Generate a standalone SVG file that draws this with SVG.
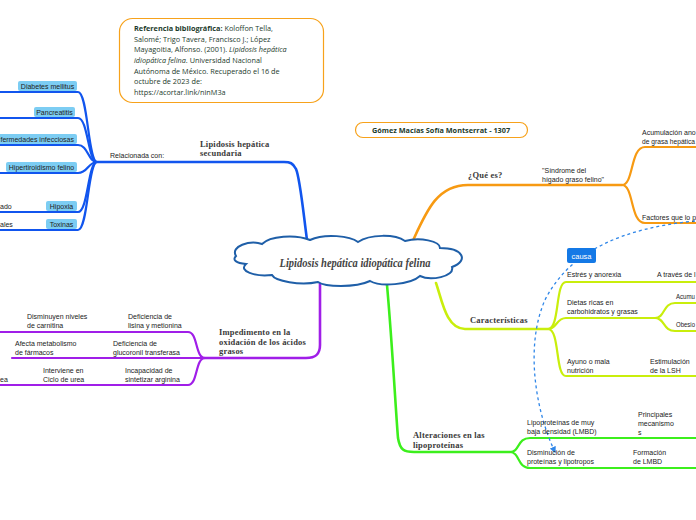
<svg xmlns="http://www.w3.org/2000/svg" width="696" height="520" viewBox="0 0 696 520">
<defs>
<style>
.t{font-family:"Liberation Serif","DejaVu Serif",serif;font-weight:bold;font-size:8.5px;fill:#3a3a3a;letter-spacing:0.2px}
.l{font-family:"Liberation Sans",Arial,sans-serif;font-size:7px;fill:#222}
.b{fill:#7ccdf3;stroke:none}
.ref{font-family:"Open Sans","Noto Sans",sans-serif;font-size:7.3px;fill:#1d3b2c}
.c{fill:none;stroke-linecap:round;stroke-linejoin:round}
.blue{stroke:#1155ee}
.org{stroke:#f79a12}
.pur{stroke:#a01ee8}
.yel{stroke:#c9ee0c}
.grn{stroke:#3cef1c}
.m{stroke-width:2.6}
.s{stroke-width:2.2}
</style>
<marker id="arr" viewBox="0 0 10 10" refX="8" refY="5" markerWidth="5" markerHeight="5" orient="auto">
<path d="M0,0 L10,5 L0,10 z" fill="#2f86e8"/>
</marker>
</defs>
<rect width="696" height="520" fill="#ffffff"/>

<g id="connectors">
<path class="c blue m" d="M307 240 C303 210 300 178 296 169 C293 163 290 162 284 162 L96 162"/>
<path class="c blue s" d="M97 162 C88 162 88 92 78 92 L0 92"/>
<path class="c blue s" d="M97 162 C88 162 88 118 78 118 L0 118"/>
<path class="c blue s" d="M97 162 C88 162 88 145 78 145 L0 145"/>
<path class="c blue s" d="M97 162 C88 162 88 173 78 173 L0 173"/>
<path class="c blue s" d="M97 162 C88 162 88 212 78 212 L0 212"/>
<path class="c blue s" d="M97 162 C88 162 88 230 78 230 L0 230"/>
<path class="c org m" d="M410 247 C425 215 435 185 468 185 L622 185"/>
<path class="c org s" d="M622 185 C634 185 630 147 645 147 L696 147"/>
<path class="c org s" d="M622 185 C634 185 630 223 645 223 L696 223"/>
<path class="c pur m" d="M320 279 L320 345 C320 354 316 358 306 358 L204 358"/>
<path class="c pur s" d="M205 358 C195 358 198 332 188 332 L0 332"/>
<path class="c pur s" d="M205 358 L12 358"/>
<path class="c pur s" d="M205 358 C195 358 198 385 188 385 L0 385"/>
<path class="c yel m" d="M436 283 C442 300 446 329 465 329 L548 329"/>
<path class="c yel s" d="M548 329 C560 329 555 282 566 282 L696 282"/>
<path class="c yel s" d="M548 329 C557 329 556 318 566 318 L655 318"/>
<path class="c yel s" d="M548 329 C560 329 555 376 566 376 L696 376"/>
<path class="c yel s" d="M655 318 C665 318 663 303 675 303 L696 303"/>
<path class="c yel s" d="M655 318 C665 318 663 331 675 331 L696 331"/>
<path class="c grn m" d="M387 285 C392 340 396 415 398 438 C400 450 404 452 414 452 L510 452"/>
<path class="c grn s" d="M510 452 C520 452 517 438 530 438 L696 438"/>
<path class="c grn s" d="M510 452 C520 452 517 468 530 468 L696 468"/>
<path d="M695 221 C625 228 570 250 545 300 C525 345 535 410 555 452" fill="none" stroke="#2f86e8" stroke-width="1.3" stroke-dasharray="3,3" marker-end="url(#arr)"/>
</g>

<g id="reference">
<rect x="119.5" y="18.5" width="204" height="84" rx="13" fill="#fff" stroke="#f7a21b" stroke-width="1.2"/>
<text class="ref" x="134" y="31"><tspan font-weight="bold">Referencia bibliográfica:</tspan> Koloffon Tella,</text>
<text class="ref" x="134" y="41.7">Salomé; Trigo Tavera, Francisco J.; López</text>
<text class="ref" x="134" y="52.3">Mayagoitia, Alfonso. (2001). <tspan font-style="italic">Lipidosis hepática</tspan></text>
<text class="ref" x="134" y="63"><tspan font-style="italic">idiopática felina</tspan>. Universidad Nacional</text>
<text class="ref" x="134" y="73.5">Autónoma de México. Recuperado el 16 de</text>
<text class="ref" x="134" y="84">octubre de 2023 de:</text>
<text class="ref" x="134" y="94.5">https://acortar.link/ninM3a</text>
</g>

<g id="author">
<rect x="355.5" y="122.5" width="172" height="15" rx="7.5" fill="#fff" stroke="#f7a21b" stroke-width="1.2"/>
<text class="ref" x="441" y="133" text-anchor="middle" font-weight="bold">Gómez Macías Sofía Montserrat - 1307</text>
</g>

<g id="center">
<path d="M236 256 C230 246 250 240 262 244 C270 236 295 234 310 240 C325 233 350 236 358 242 C370 234 395 234 405 241 C420 237 440 241 440 248 C462 248 470 260 452 267 C455 277 430 281 420 276 C410 285 380 287 370 281 C355 288 325 287 318 282 C300 286 275 281 272 275 C255 277 238 271 246 264 C236 263 232 260 236 256 Z" fill="#fff" stroke="#1f5fa8" stroke-width="2"/>
<text x="355" y="267" text-anchor="middle" font-family="'Liberation Serif','DejaVu Serif',serif" font-style="italic" font-weight="bold" font-size="12" fill="#444" textLength="151" lengthAdjust="spacingAndGlyphs">Lipidosis hepática idiopática felina</text>
</g>

<g id="secundaria">
<text class="t" x="200" y="147">Lipidosis hepática</text>
<text class="t" x="200" y="156">secundaria</text>
<text class="l" x="110" y="158">Relacionada con:</text>
</g>
<g id="diabetes"><rect class="b" x="18" y="81" width="59" height="10" rx="2"/><text class="l" x="47.5" y="88.5" text-anchor="middle">Diabetes mellitus</text></g>
<g id="pancreatitis"><rect class="b" x="34" y="107" width="41" height="10" rx="2"/><text class="l" x="54.5" y="114.5" text-anchor="middle">Pancreatitis</text></g>
<g id="infecciosas"><rect class="b" x="-6" y="134" width="83" height="10" rx="2"/><text class="l" x="74" y="141.5" text-anchor="end">fermedades infecciosas</text></g>
<g id="hipertiroidismo"><rect class="b" x="6" y="162" width="71" height="10" rx="2"/><text class="l" x="41.5" y="169.5" text-anchor="middle">Hipertiroidismo felino</text></g>
<g id="hipoxia"><rect class="b" x="46" y="201" width="31" height="10" rx="2"/><text class="l" x="61.5" y="208.5" text-anchor="middle">Hipoxia</text><text class="l" x="0" y="209">ado</text></g>
<g id="toxinas"><rect class="b" x="46" y="219" width="31" height="10" rx="2"/><text class="l" x="61.5" y="226.5" text-anchor="middle">Toxinas</text><text class="l" x="0" y="227">ales</text></g>

<g id="que-es">
<text class="t" x="468" y="178">¿Qué es?</text>
<text class="l" x="542" y="173">"Síndrome del</text>
<text class="l" x="542" y="182">hígado graso felino"</text>
</g>
<g id="acumulacion"><text class="l" x="642" y="135">Acumulación ano</text><text class="l" x="642" y="144" textLength="53" lengthAdjust="spacingAndGlyphs">de grasa hepática</text></g>
<g id="factores"><text class="l" x="642" y="220">Factores que lo p</text></g>
<g id="causa"><rect x="567" y="248" width="29" height="15" rx="2" fill="#1479e6"/><text x="581.5" y="258.5" text-anchor="middle" font-family="'Liberation Sans',Arial,sans-serif" font-size="7.5" fill="#fff">causa</text></g>

<g id="caracteristicas"><text class="t" x="470" y="323">Características</text></g>
<g id="estres"><text class="l" x="567" y="277">Estrés y anorexia</text><text class="l" x="657" y="277">A través de l</text></g>
<g id="dietas"><text class="l" x="567" y="305">Dietas ricas en</text><text class="l" x="567" y="314">carbohidratos y grasas</text></g>
<g id="acumu"><text class="l" x="676" y="299" textLength="19" lengthAdjust="spacingAndGlyphs">Acumu</text></g>
<g id="obesi"><text class="l" x="676" y="327" textLength="19" lengthAdjust="spacingAndGlyphs">Obesio</text></g>
<g id="ayuno"><text class="l" x="567" y="364">Ayuno o mala</text><text class="l" x="567" y="373">nutrición</text></g>
<g id="lsh"><text class="l" x="650" y="364">Estimulación</text><text class="l" x="650" y="373">de la LSH</text></g>

<g id="alteraciones"><text class="t" x="413" y="438">Alteraciones en las</text><text class="t" x="413" y="447.5">lipoproteínas</text></g>
<g id="lmbd"><text class="l" x="527" y="425">Lipoproteínas de muy</text><text class="l" x="527" y="434">baja densidad (LMBD)</text></g>
<g id="mecanismos"><text class="l" x="638" y="417">Principales</text><text class="l" x="638" y="426">mecanismo</text><text class="l" x="638" y="435">s</text></g>
<g id="disminucion"><text class="l" x="527" y="455">Disminución de</text><text class="l" x="527" y="464">proteínas y lipotropos</text></g>
<g id="formacion"><text class="l" x="633" y="455">Formación</text><text class="l" x="633" y="464">de LMBD</text></g>

<g id="impedimento"><text class="t" x="219" y="335">Impedimento en la</text><text class="t" x="219" y="344.5">oxidación de los ácidos</text><text class="t" x="219" y="354">grasos</text></g>
<g id="carnitina"><text class="l" x="27" y="319">Disminuyen niveles</text><text class="l" x="27" y="328">de carnitina</text></g>
<g id="lisina"><text class="l" x="128" y="319">Deficiencia de</text><text class="l" x="128" y="328">lisina y metionina</text></g>
<g id="farmacos"><text class="l" x="15" y="346">Afecta metabolismo</text><text class="l" x="15" y="355">de fármacos</text></g>
<g id="glucoronil"><text class="l" x="113" y="346">Deficiencia de</text><text class="l" x="113" y="355">glucoronil transferasa</text></g>
<g id="urea"><text class="l" x="43" y="373">Interviene en</text><text class="l" x="43" y="382">Ciclo de urea</text><text class="l" x="0" y="382">ea</text></g>
<g id="arginina"><text class="l" x="125" y="373">Incapacidad de</text><text class="l" x="125" y="382">sintetizar arginina</text></g>
</svg>
